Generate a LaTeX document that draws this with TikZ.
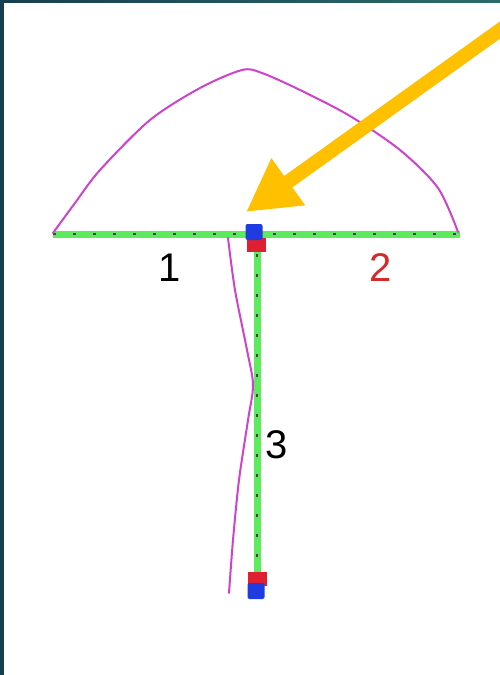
\documentclass[tikz,border=0pt]{standalone}
\usepackage{fontspec}
\setmainfont{Liberation Sans}
\usetikzlibrary{arrows.meta}
\definecolor{frameL}{HTML}{173F4F}
\definecolor{frameR}{HTML}{2C6C68}
\definecolor{barGreen}{HTML}{5CEB5C}
\definecolor{arcPink}{HTML}{CC44CC}
\definecolor{sqBlue}{HTML}{1E3CE0}
\definecolor{sqRed}{HTML}{E02030}
\definecolor{arrOrange}{HTML}{FFC000}
\definecolor{lblRed}{HTML}{D42A2A}
\tikzset{
  member/.style={line width=7pt, barGreen},
  memberdots/.style={line width=2.2pt, black!75, dash pattern=on 3pt off 17pt},
  outline/.style={line width=2pt, arcPink, line cap=round, line join=round},
  bluesq/.style={fill=sqBlue, draw=none, minimum width=17pt, minimum height=16pt, inner sep=0pt, rounded corners=2pt},
  redsq/.style={fill=sqRed, draw=none, minimum width=19pt, minimum height=14pt, inner sep=0pt},
  lbl/.style={font=\fontsize{40}{40}\selectfont, inner sep=0pt}
}
\begin{document}
\begin{tikzpicture}[x=1pt,y=-1pt]
\useasboundingbox (0,0) rectangle (500,675);
% frame
\shade[left color=frameL, right color=frameR] (0,0) rectangle (500,675);
\fill[white] (4,3) rectangle (500,675);
% coordinates
\coordinate (L) at (53,234);
\coordinate (R) at (460,234);
\coordinate (T) at (257,234);
\coordinate (B) at (257,588);
% green members
\draw[member] (L) -- (R);
\draw[member] (T) -- (B);
\draw[memberdots] (L) -- (R);
\draw[memberdots] (T) -- (B);
% pink outlines
\draw[outline] plot[smooth] coordinates {(53,233) (75,203) (100,170) (150,120) (200,88) (242,70) (262,73) (300,90) (350,116) (400,150) (438,188) (458,232)};
\draw[outline] plot[smooth] coordinates {(228,238) (235,290) (247,350) (253,385) (248,420) (239,480) (233,540) (229,593)};
% joints
\node[redsq] (r1) at (256,245) {};
\node[bluesq] (b1) at (254,232) {};
\node[redsq] (r2) at (257,579) {};
\node[bluesq] (b2) at (256,591) {};
% labels
\node[lbl] (l1) at (170,268) {1};
\node[lbl, text=lblRed] (l2) at (381,268) {2};
\node[lbl] (l3) at (277,445) {3};
% arrow
\coordinate (A0) at (514,20);
\coordinate (Atip) at (246,212);
\draw[arrOrange, line width=14pt, -{Triangle[length=52pt,width=54pt]}] (A0) -- (Atip);
\end{tikzpicture}
\end{document}
